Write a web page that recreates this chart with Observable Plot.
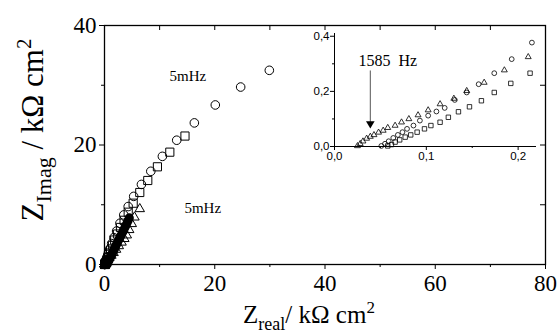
<!DOCTYPE html>
<html>
<head>
<meta charset="utf-8">
<script src="https://cdn.jsdelivr.net/npm/d3@7"></script>
<script src="https://cdn.jsdelivr.net/npm/@observablehq/plot@0.6"></script>
<style>
  html, body { margin: 0; padding: 0; background: #fff; }
  #wrap { position: relative; width: 558px; height: 333px; }
  #wrap svg { position: absolute; }
</style>
</head>
<body>
<div id="wrap"></div>
<script>
// ---------- Main plot data (kΩ cm²) ----------
const circleX = [0.051,0.055,0.059,0.064,0.069,0.074,0.079,0.086,0.093,0.102,0.111,0.120,0.131,0.144,0.157,0.174,0.193,0.215,
  0.26,0.35,0.5,0.7,0.95,1.3,1.7,2.2,2.8,3.5,4.3,5.3,6.7,8.4,10.5,13.1,16.3,20.1,24.7,29.9];
const circleY = [0.002,0.010,0.019,0.031,0.042,0.052,0.064,0.076,0.094,0.112,0.127,0.140,0.169,0.196,0.226,0.266,0.317,0.377,
  0.55,0.85,1.3,1.9,2.6,3.5,4.5,5.6,6.9,8.3,9.7,11.4,13.4,15.6,18.1,20.8,23.7,26.7,29.7,32.5];

const squareX = [0.058,0.062,0.066,0.071,0.077,0.083,0.090,0.098,0.105,0.115,0.124,0.135,0.147,0.160,0.174,0.192,0.213,
  0.30,0.42,0.58,0.8,1.1,1.45,1.85,2.35,2.9,3.55,4.3,5.2,6.4,7.85,9.6,11.85,14.6];
const squareY = [0.002,0.007,0.016,0.024,0.034,0.042,0.052,0.064,0.076,0.088,0.106,0.126,0.144,0.166,0.196,0.229,0.266,
  0.45,0.75,1.15,1.7,2.4,3.2,4.1,5.1,6.2,7.4,8.75,10.26,12.05,14.06,16.35,18.8,21.5];

const triangleX = [0.025,0.028,0.031,0.035,0.039,0.043,0.048,0.053,0.058,0.066,0.073,0.081,0.091,0.102,0.115,0.130,0.144,0.163,0.185,0.211,
  0.28,0.4,0.6,0.9,1.25,1.65,2.1,2.6,3.1,3.6,4.05,4.48,4.95,5.44,6.4];
const triangleY = [0.002,0.010,0.019,0.029,0.036,0.042,0.051,0.058,0.068,0.076,0.088,0.100,0.114,0.132,0.154,0.174,0.202,0.232,0.277,0.325,
  0.45,0.62,0.85,1.15,1.5,1.95,2.5,3.1,3.7,4.3,4.9,5.8,6.8,7.9,9.3];

const filledX = [0.5,0.62,0.8,0.93,1.1,1.24,1.42,1.55,1.72,1.86,2.02,2.17,2.33,2.52,2.7,2.92,3.1,3.32,3.5,3.72,3.9,4.12,4.3,4.5];
const filledY = [0.05,0.32,0.66,0.93,1.27,1.53,1.88,2.12,2.47,2.73,3.08,3.33,3.68,4.02,4.33,4.72,5.03,5.43,5.78,6.22,6.58,7.03,7.38,7.8];

const mainNoteText = ["5mHz", "5mHz"];
const mainNoteX = [11.8, 14.5];
const mainNoteY = [31.6, 9.5];

// Axis ticks
const xMajor = [0, 20, 40, 60, 80];
const xMinor = [10, 30, 50, 70];
const yMajor = [0, 20, 40];
const yMinor = [10, 30];

// ---------- Inset data (kΩ cm²) ----------
const nIn = [18, 17, 20]; // number of high-frequency points shown in the inset per series
const insetXTicks = [0, 0.1, 0.2];
const insetXMinor = [0.05, 0.15];
const insetYTicks = [0, 0.2, 0.4];
const insetYMinor = [0.1, 0.3];
const arrowFreq = ["1585\u00a0 Hz"];
const arrowX = [0.039];
const arrowYTop = [0.274];
const arrowYHead = [0.083];
const arrowLabelX = [0.058];
const arrowLabelY = [0.31];

const zip = (xs, ys) => xs.map((x, i) => ({x, y: ys[i]}));
const circles = zip(circleX, circleY);
const squares = zip(squareX, squareY);
const triangles = zip(triangleX, triangleY);
const filled = zip(filledX, filledY);
const mainNotes = mainNoteText.map((t, i) => ({text: t, x: mainNoteX[i], y: mainNoteY[i]}));

const W = 558, H = 333;
const mL = 104, mR = 13, mT = 25, mB = 69;
const innerW = W - mL - mR, innerH = H - mT - mB;
const serif = "'Liberation Serif', 'Times New Roman', serif";
const sans = "'Liberation Sans', Arial, sans-serif";

const main = Plot.plot({
  width: W, height: H,
  marginLeft: mL, marginRight: mR, marginTop: mT, marginBottom: mB,
  x: {domain: [0, 80]},
  y: {domain: [0, 40]},
  style: {fontFamily: serif, color: "#000", background: "transparent", overflow: "visible"},
  marks: [
    Plot.frame({stroke: "#000", strokeWidth: 1.3}),
    Plot.axisX(xMajor, {tickSize: 5, tickPadding: 5, label: null, fontSize: 23, fontFamily: serif, tickFormat: d => String(d)}),
    Plot.axisX(xMinor, {tickSize: 3, label: null, tickFormat: () => ""}),
    Plot.axisY(yMajor, {tickSize: 5, tickPadding: 3, label: null, fontSize: 23, fontFamily: serif, tickFormat: d => String(d)}),
    Plot.axisY(yMinor, {tickSize: 3, label: null, tickFormat: () => ""}),
    Plot.tickX([...xMajor, ...xMinor], {x: d => d, insetBottom: innerH - 5, stroke: "#000"}),
    Plot.tickY([...yMajor, ...yMinor], {y: d => d, insetLeft: innerW - 5, stroke: "#000"}),
    Plot.dot(filled, {x: "x", y: "y", r: 3.8, fill: "#000", stroke: "#000"}),
    Plot.dot(triangles, {x: "x", y: "y", symbol: "triangle", r: 3.5, fill: "none", stroke: "#000", strokeWidth: 1}),
    Plot.dot(circles, {x: "x", y: "y", r: 4.3, fill: "none", stroke: "#000", strokeWidth: 1}),
    Plot.dot(squares, {x: "x", y: "y", symbol: "square", r: 4.6, fill: "none", stroke: "#000", strokeWidth: 1}),
    Plot.text(mainNotes, {x: "x", y: "y", text: "text", fontSize: 15, fontFamily: serif, textAnchor: "start", fill: "#000"})
  ]
});

// Axis titles with subscripts / superscripts
{
  const svg = d3.select(main);
  const xl = svg.append("text")
    .attr("x", 309).attr("y", 323)
    .attr("text-anchor", "middle")
    .attr("fill", "#000")
    .attr("font-family", serif).attr("font-size", 25);
  xl.append("tspan").text("Z");
  xl.append("tspan").attr("dy", 7).attr("font-size", 18).text("real");
  xl.append("tspan").attr("dy", -7).text("/ kΩ cm");
  xl.append("tspan").attr("dy", -10).attr("font-size", 17).text("2");

  const yl = svg.append("text")
    .attr("transform", "translate(43,130) rotate(-90)")
    .attr("text-anchor", "middle")
    .attr("fill", "#000")
    .attr("font-family", serif).attr("font-size", 31);
  yl.append("tspan").text("Z");
  yl.append("tspan").attr("dy", 8).attr("font-size", 22).text("Imag");
  yl.append("tspan").attr("dy", -8).text(" / kΩ cm");
  yl.append("tspan").attr("dy", -12).attr("font-size", 21).text("2");
}

// ---------- Inset ----------
const inCircles = circles.slice(0, nIn[0]);
const inSquares = squares.slice(0, nIn[1]);
const inTriangles = triangles.slice(0, nIn[2]);
const arrows = arrowFreq.map((t, i) => ({t, x: arrowX[i], y1: arrowYTop[i], y2: arrowYHead[i], lx: arrowLabelX[i], ly: arrowLabelY[i]}));
const fmt = d => d.toFixed(1).replace(".", ",");

const IW = 245, IH = 145;
const inset = Plot.plot({
  width: IW, height: IH,
  marginLeft: 34, marginRight: 9, marginTop: 8, marginBottom: 24,
  x: {domain: [0, 0.22]},
  y: {domain: [0, 0.41]},
  style: {fontFamily: sans, color: "#000", background: "transparent", overflow: "visible"},
  marks: [
    Plot.ruleX([0], {stroke: "#000"}),
    Plot.ruleY([0], {stroke: "#000"}),
    Plot.axisX(insetXTicks, {tickSize: 4, tickPadding: 1, label: null, fontSize: 11.5, fontFamily: sans, tickFormat: fmt}),
    Plot.axisX(insetXMinor, {tickSize: 2, label: null, tickFormat: () => ""}),
    Plot.axisY(insetYTicks, {tickSize: 4, tickPadding: 1, label: null, fontSize: 11.5, fontFamily: sans, tickFormat: fmt}),
    Plot.axisY(insetYMinor, {tickSize: 2, label: null, tickFormat: () => ""}),
    Plot.dot(inTriangles, {x: "x", y: "y", symbol: "triangle", r: 2.2, fill: "none", stroke: "#000", strokeWidth: 0.8}),
    Plot.dot(inCircles, {x: "x", y: "y", r: 2.4, fill: "none", stroke: "#000", strokeWidth: 0.8}),
    Plot.dot(inSquares, {x: "x", y: "y", symbol: "square", r: 2.5, fill: "none", stroke: "#000", strokeWidth: 0.8}),
    Plot.ruleX(arrows, {x: "x", y1: "y1", y2: "y2", stroke: "#555", strokeWidth: 1}),
    Plot.dot(arrows, {x: "x", y: "y2", symbol: "triangle", rotate: 180, r: 3.2, fill: "#000", stroke: "none"}),
    Plot.text(arrows, {x: "lx", y: "ly", text: "t", fontSize: 16, fontFamily: serif, textAnchor: "middle", fill: "#000"})
  ]
});

const wrap = document.getElementById("wrap");
main.style.left = "0px"; main.style.top = "0px";
inset.style.left = "300px"; inset.style.top = "25px";
wrap.appendChild(main);
wrap.appendChild(inset);
</script>
</body>
</html>
